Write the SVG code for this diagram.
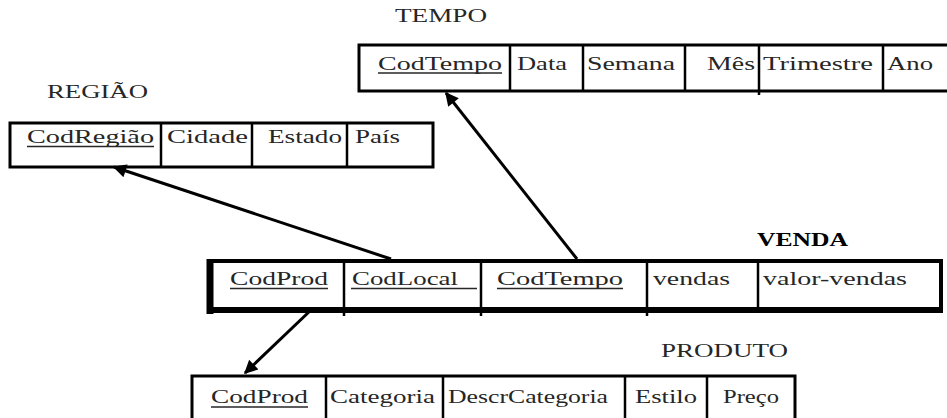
<svg xmlns="http://www.w3.org/2000/svg" width="947" height="418" viewBox="0 0 947 418">
  <style>
    .t { font-family: "Liberation Serif", "Times New Roman", serif; font-size: 19px; fill: #262626; }
    .lbl { font-family: "Liberation Serif", "Times New Roman", serif; font-size: 18px; fill: #262626; }
    .bold { font-weight: bold; fill: #000; }
    .box { fill: #fff; stroke: #000; stroke-width: 3; }
    .div { stroke: #000; stroke-width: 2.5; }
    .ul { stroke: #262626; stroke-width: 1.4; }
    .link { stroke: #000; stroke-width: 3; fill: none; marker-end: url(#arrow); }
  </style>
  <defs>
    <marker id="arrow" viewBox="0 0 10 10" refX="9" refY="5" markerWidth="5" markerHeight="4.5" orient="auto" markerUnits="strokeWidth">
      <path d="M0,0 L10,5 L0,10 z" fill="#000"/>
    </marker>
  </defs>
  <rect width="947" height="418" fill="#fff"/>

  <!-- TEMPO dimension -->
  <g id="tempo">
    <text class="lbl" x="395" y="22" textLength="92" lengthAdjust="spacingAndGlyphs">TEMPO</text>
    <rect class="box" x="359" y="45" width="600" height="46"/>
    <line class="div" x1="510" y1="45" x2="510" y2="91"/>
    <line class="div" x1="583" y1="45" x2="583" y2="91"/>
    <line class="div" x1="685" y1="45" x2="685" y2="91"/>
    <line class="div" x1="759" y1="45" x2="759" y2="95"/>
    <line class="div" x1="883" y1="45" x2="883" y2="91"/>
    <text class="t" x="378" y="70" textLength="124" lengthAdjust="spacingAndGlyphs">CodTempo</text>
    <line class="ul" x1="378" y1="73" x2="502" y2="73"/>
    <text class="t" x="517" y="70" textLength="50" lengthAdjust="spacingAndGlyphs">Data</text>
    <text class="t" x="587" y="70" textLength="88" lengthAdjust="spacingAndGlyphs">Semana</text>
    <text class="t" x="707" y="70" textLength="48" lengthAdjust="spacingAndGlyphs">Mês</text>
    <text class="t" x="763" y="70" textLength="110" lengthAdjust="spacingAndGlyphs">Trimestre</text>
    <text class="t" x="887" y="70" textLength="46" lengthAdjust="spacingAndGlyphs">Ano</text>
  </g>

  <!-- REGIÃO dimension -->
  <g id="regiao">
    <text class="lbl" x="47" y="98" textLength="101" lengthAdjust="spacingAndGlyphs">REGIÃO</text>
    <rect class="box" x="10" y="123" width="423" height="44"/>
    <line class="div" x1="161" y1="123" x2="161" y2="167"/>
    <line class="div" x1="252" y1="123" x2="252" y2="167"/>
    <line class="div" x1="347" y1="123" x2="347" y2="167"/>
    <text class="t" x="27" y="143" textLength="127" lengthAdjust="spacingAndGlyphs">CodRegião</text>
    <line class="ul" x1="27" y1="146.5" x2="154" y2="146.5"/>
    <text class="t" x="167" y="143" textLength="81" lengthAdjust="spacingAndGlyphs">Cidade</text>
    <text class="t" x="268" y="143" textLength="74" lengthAdjust="spacingAndGlyphs">Estado</text>
    <text class="t" x="355" y="143" textLength="45" lengthAdjust="spacingAndGlyphs">País</text>
  </g>

  <!-- VENDA fact table -->
  <g id="venda">
    <text class="lbl bold" x="757" y="246" textLength="91" lengthAdjust="spacingAndGlyphs">VENDA</text>
    <rect x="210" y="261" width="731" height="48" fill="#fff" stroke="#000" stroke-width="4"/>
    <line x1="210" y1="259" x2="210" y2="314" stroke="#000" stroke-width="7"/>
    <line x1="207" y1="310" x2="943" y2="310" stroke="#000" stroke-width="6"/>
    <line class="div" x1="344" y1="261" x2="344" y2="316"/>
    <line class="div" x1="481" y1="261" x2="481" y2="316"/>
    <line class="div" x1="647" y1="261" x2="647" y2="316"/>
    <line class="div" x1="758" y1="261" x2="758" y2="310"/>
    <text class="t" x="230" y="285" textLength="98" lengthAdjust="spacingAndGlyphs">CodProd</text>
    <line class="ul" x1="230" y1="288.5" x2="328" y2="288.5"/>
    <text class="t" x="352" y="285" textLength="106" lengthAdjust="spacingAndGlyphs">CodLocal</text>
    <line class="ul" x1="351" y1="288.5" x2="477" y2="288.5"/>
    <text class="t" x="497" y="285" textLength="126" lengthAdjust="spacingAndGlyphs">CodTempo</text>
    <line class="ul" x1="497" y1="288.5" x2="623" y2="288.5"/>
    <text class="t" x="653" y="285" textLength="77" lengthAdjust="spacingAndGlyphs">vendas</text>
    <text class="t" x="763" y="285" textLength="144" lengthAdjust="spacingAndGlyphs">valor-vendas</text>
  </g>

  <!-- PRODUTO dimension -->
  <g id="produto">
    <text class="lbl" x="661" y="357" textLength="127" lengthAdjust="spacingAndGlyphs">PRODUTO</text>
    <rect class="box" x="192" y="376" width="603" height="60"/>
    <line class="div" x1="326" y1="376" x2="326" y2="418"/>
    <line class="div" x1="443" y1="376" x2="443" y2="418"/>
    <line class="div" x1="625" y1="376" x2="625" y2="418"/>
    <line class="div" x1="707" y1="376" x2="707" y2="418"/>
    <text class="t" x="211" y="403" textLength="97" lengthAdjust="spacingAndGlyphs">CodProd</text>
    <line class="ul" x1="211" y1="407" x2="308" y2="407"/>
    <text class="t" x="330" y="403" textLength="105" lengthAdjust="spacingAndGlyphs">Categoria</text>
    <text class="t" x="448" y="403" textLength="160" lengthAdjust="spacingAndGlyphs">DescrCategoria</text>
    <text class="t" x="635" y="403" textLength="62" lengthAdjust="spacingAndGlyphs">Estilo</text>
    <text class="t" x="723" y="403" textLength="56" lengthAdjust="spacingAndGlyphs">Preço</text>
  </g>

  <!-- foreign-key links -->
  <g id="connectors">
    <line class="link" x1="391" y1="259" x2="114" y2="167"/>
    <line class="link" x1="577" y1="259" x2="446" y2="93"/>
    <line class="link" x1="311" y1="310" x2="245" y2="373"/>
  </g>
</svg>
